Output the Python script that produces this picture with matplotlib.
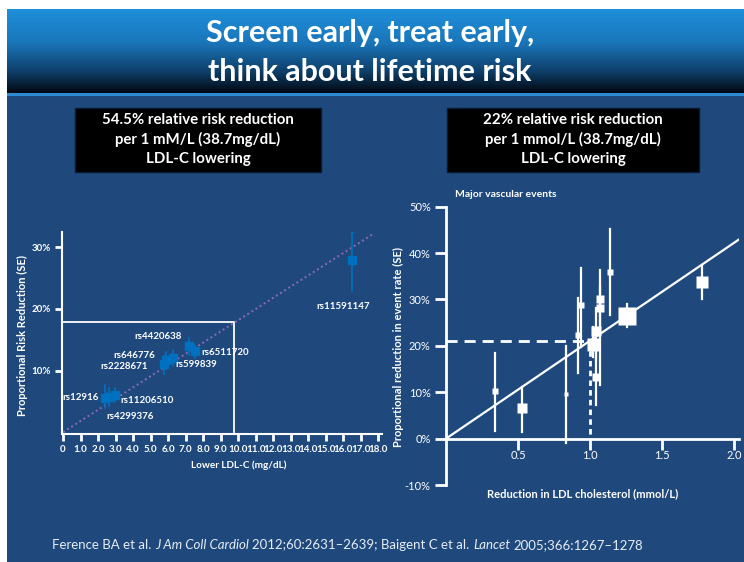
import numpy as np
import matplotlib.pyplot as plt
from matplotlib.patches import Rectangle

plt.rcParams['font.family'] = ['Lato', 'DejaVu Sans']

NAVY = '#1F497D'
BLUE = '#0070C0'
W, H = 744, 562

# ---- left chart: genetic variants (Ference 2012) ----
snp_names = ['rs11591147', 'rs4420638', 'rs6511720', 'rs599839', 'rs646776',
             'rs2228671', 'rs12916', 'rs4299376', 'rs11206510']
snp_ldl = [16.5, 7.2, 7.55, 6.3, 5.9, 5.77, 2.4, 2.63, 2.97]
snp_rrr = [28.0, 14.0, 13.1, 12.1, 11.7, 11.0, 5.6, 5.7, 6.0]
snp_lo = [22.9, 12.6, 12.0, 10.8, 10.3, 9.5, 3.9, 4.2, 4.9]
snp_hi = [33.0, 15.3, 14.2, 13.4, 13.0, 12.3, 7.7, 7.2, 7.1]
snp_fit_x = [0, 17.7]
snp_fit_y = [0, 32.2]
box_x, box_y = 9.77, 17.9
left_xticks = [0] + [float(v) for v in range(1, 19)]
left_xticklabels = ['0'] + ['%.1f' % v for v in range(1, 19)]
left_yticks = [10, 20, 30]

# ---- right chart: statin trials (CTT 2005) ----
trial_ldl = [0.34, 0.53, 0.83, 0.92, 0.935, 1.02, 1.04, 1.04, 1.07, 1.07, 1.14, 1.26, 1.78]
trial_rr = [10.2, 6.5, 9.6, 22.3, 28.9, 20.5, 23.3, 13.3, 30.1, 28.2, 35.9, 26.5, 33.7]
trial_lo = [1.7, 1.5, -0.9, 14.1, 19.8, 17.5, 17.0, 7.3, 24.0, 11.5, 26.7, 24.0, 30.0]
trial_hi = [18.5, 11.1, 20.0, 30.4, 36.7, 24.0, 28.1, 19.8, 36.3, 33.0, 45.3, 29.0, 37.5]
trial_weight = [5, 10, 4, 5, 5, 12, 10, 7, 7, 7, 5, 17, 11]
ctt_slope = 21.1
ref_ldl, ref_rr = 1.0, 21.0
right_xticks = [0.5, 1.0, 1.5, 2.0]
right_yticks = [-10, 0, 10, 20, 30, 40, 50]

fig = plt.figure(figsize=(W / 100, H / 100), dpi=100)
fig.patch.set_facecolor('white')


def fx(px):
    return px / W


def fy(py):
    return 1 - py / H


# slide background
fig.patches.append(Rectangle((fx(7), 0), 1 - fx(7), fy(96), transform=fig.transFigure,
                             facecolor=NAVY, edgecolor='none', zorder=-10))
fig.patches.append(Rectangle((fx(7), fy(96)), 1 - fx(7), fy(93) - fy(96),
                             transform=fig.transFigure, facecolor='#2B8AD2',
                             edgecolor='none', zorder=-10))

# title band with gradient
tax = fig.add_axes([fx(7), fy(93), 1 - fx(7), fy(9) - fy(93)])
stops = np.array([[30, 144, 218], [26, 118, 186], [14, 62, 104], [1, 8, 16]]) / 255
pos = np.array([0, 0.4, 0.75, 1.0])
t = np.linspace(0, 1, 200)
grad = np.stack([np.interp(t, pos, stops[:, c]) for c in range(3)], axis=1)
tax.imshow(grad[:, None, :], aspect='auto', extent=[0, 1, 0, 1])
tax.set_axis_off()
fig.text(fx(370), fy(33), 'Screen early, treat early,', color='white', fontsize=22,
         fontweight='bold', ha='center', va='center')
fig.text(fx(370), fy(72), 'think about lifetime risk', color='white', fontsize=22,
         fontweight='bold', ha='center', va='center')

# black callout boxes
for (x0, x1), lines in [((75, 321), ['54.5% relative risk reduction',
                                     'per 1 mM/L (38.7mg/dL)', 'LDL-C lowering']),
                        ((447, 699), ['22% relative risk reduction',
                                      'per 1 mmol/L (38.7mg/dL)', 'LDL-C lowering'])]:
    fig.patches.append(Rectangle((fx(x0), fy(172)), fx(x1) - fx(x0), fy(108) - fy(172),
                                 transform=fig.transFigure, facecolor='black',
                                 edgecolor='#0a1a30', zorder=-5))
    for ln, yy in zip(lines, [120, 139, 159]):
        fig.text(fx((x0 + x1) / 2), fy(yy), ln, color='white', fontsize=10.8,
                 fontweight='bold', ha='center', va='center')

# ---- left chart ----
ax1 = fig.add_axes([fx(62), fy(434), fx(382) - fx(62), fy(232) - fy(434)])
ax1.set_facecolor('none')
ax1.plot(snp_fit_x, snp_fit_y, color='#8F6BB3', lw=1.4, ls=(0, (1, 1.5)), zorder=2)
ax1.plot([0, box_x, box_x], [box_y, box_y, 0], color='white', lw=1.3, zorder=1)
for i in range(len(snp_names)):
    ax1.plot([snp_ldl[i]] * 2, [snp_lo[i], snp_hi[i]], color=BLUE, lw=1.2, zorder=3)
# the top variant's upper bound runs off the scale: arrow head
ax1.plot(snp_ldl[0], snp_hi[0], '^', color=BLUE, ms=5, mec='none', zorder=3)
ax1.plot(snp_ldl, snp_rrr, 's', color=BLUE, ms=6, zorder=4)

label_style = {
    'rs11591147': ((-9, -47), 'center'),
    'rs4420638': ((-31, 9), 'center'),
    'rs6511720': ((6, -1), 'left'),
    'rs599839': ((2, -7), 'left'),
    'rs646776': ((-11, 5), 'right'),
    'rs2228671': ((-16, -2), 'right'),
    'rs12916': ((-6, 0), 'right'),
    'rs11206510': ((5, -5), 'left'),
    'rs4299376': ((21, -19), 'center'),
}
for name, x, y in zip(snp_names, snp_ldl, snp_rrr):
    off, ha = label_style[name]
    ax1.annotate(name, (x, y), xytext=off, textcoords='offset pixels', ha=ha,
                 va='center', color='white', fontsize=7, fontweight='bold', zorder=5)

ax1.set_xlim(-0.06, 18.2)
ax1.set_ylim(-0.3, 32.5)
for s in ['top', 'right']:
    ax1.spines[s].set_visible(False)
for s in ['left', 'bottom']:
    ax1.spines[s].set_color('white')
    ax1.spines[s].set_linewidth(1.5)
ax1.set_xticks(left_xticks)
ax1.set_xticklabels(left_xticklabels)
ax1.set_yticks(left_yticks)
ax1.set_yticklabels(['%d%%' % v for v in left_yticks])
ax1.tick_params(axis='both', colors='white', width=2, length=5, labelsize=7, pad=3)
for lb in ax1.get_xticklabels() + ax1.get_yticklabels():
    lb.set_fontweight('bold')
fig.text(fx(239), fy(465), 'Lower LDL-C (mg/dL)', color='white', fontsize=7.2,
         fontweight='bold', ha='center', va='center')
fig.text(fx(22), fy(336), 'Proportional Risk Reduction (SE)', color='white', fontsize=8,
         fontweight='bold', ha='center', va='center', rotation=90)

# ---- right chart ----
ax2 = fig.add_axes([fx(444), fy(485), fx(739) - fx(444), fy(206.7) - fy(485)])
ax2.set_facecolor('none')
xs = np.array([0, 2.04])
ax2.plot(xs, ctt_slope * xs, color='white', lw=1.6, zorder=2)
ax2.plot([0, ref_ldl], [ref_rr, ref_rr], color='white', lw=2, ls=(0, (4, 2.5)), zorder=2)
ax2.plot([ref_ldl, ref_ldl], [ref_rr, 0], color='white', lw=2, ls=(0, (2, 1.5)), zorder=2)
for x, y, lo, hi, wt in zip(trial_ldl, trial_rr, trial_lo, trial_hi, trial_weight):
    ax2.plot([x, x], [lo, hi], color='white', lw=1.6, zorder=3)
    ax2.plot(x, y, 's', color='white', ms=wt * 0.78, mec='none', zorder=4)
ax2.set_xlim(-0.014, 2.035)
ax2.set_ylim(-10, 50)
for s in ['top', 'right']:
    ax2.spines[s].set_visible(False)
ax2.spines['left'].set_position(('data', 0))
ax2.spines['bottom'].set_position(('data', 0))
for s in ['left', 'bottom']:
    ax2.spines[s].set_color('white')
    ax2.spines[s].set_linewidth(2)
ax2.set_xticks(right_xticks)
ax2.set_xticklabels(['%.1f' % v for v in right_xticks])
ax2.set_yticks(right_yticks)
ax2.set_yticklabels(['%d%%' % v for v in right_yticks])
ax2.tick_params(axis='both', colors='white', width=2, length=8, labelsize=8, pad=3)
ax2.tick_params(axis='x', pad=0)
fig.text(fx(455), fy(195), 'Major vascular events', color='white', fontsize=7.5,
         fontweight='bold', ha='left', va='center')
fig.text(fx(583), fy(494), 'Reduction in LDL cholesterol (mmol/L)', color='white',
         fontsize=8, fontweight='bold', ha='center', va='center')
fig.text(fx(398), fy(347), 'Proportional reduction in event rate (SE)', color='white',
         fontsize=8, fontweight='bold', ha='center', va='center', rotation=90)

# ---- footer with italic journal names ----
pieces = [('Ference BA et al.', 'normal'), ('J Am Coll Cardiol', 'italic'),
          ('2012;60:2631\u20132639; Baigent C et al.', 'normal'), ('Lancet', 'italic'),
          ('2005;366:1267\u20131278', 'normal')]
renderer = fig.canvas.get_renderer()
xpos = fx(52)
for txt, style in pieces:
    tt = fig.text(xpos, fy(545), txt, color='#E6ECF4', fontsize=9.5, style=style,
                  ha='left', va='center')
    bb = tt.get_window_extent(renderer=renderer)
    xpos += (bb.width + 3.5) / W

fig.savefig('out.png', dpi=100, facecolor=fig.get_facecolor())
